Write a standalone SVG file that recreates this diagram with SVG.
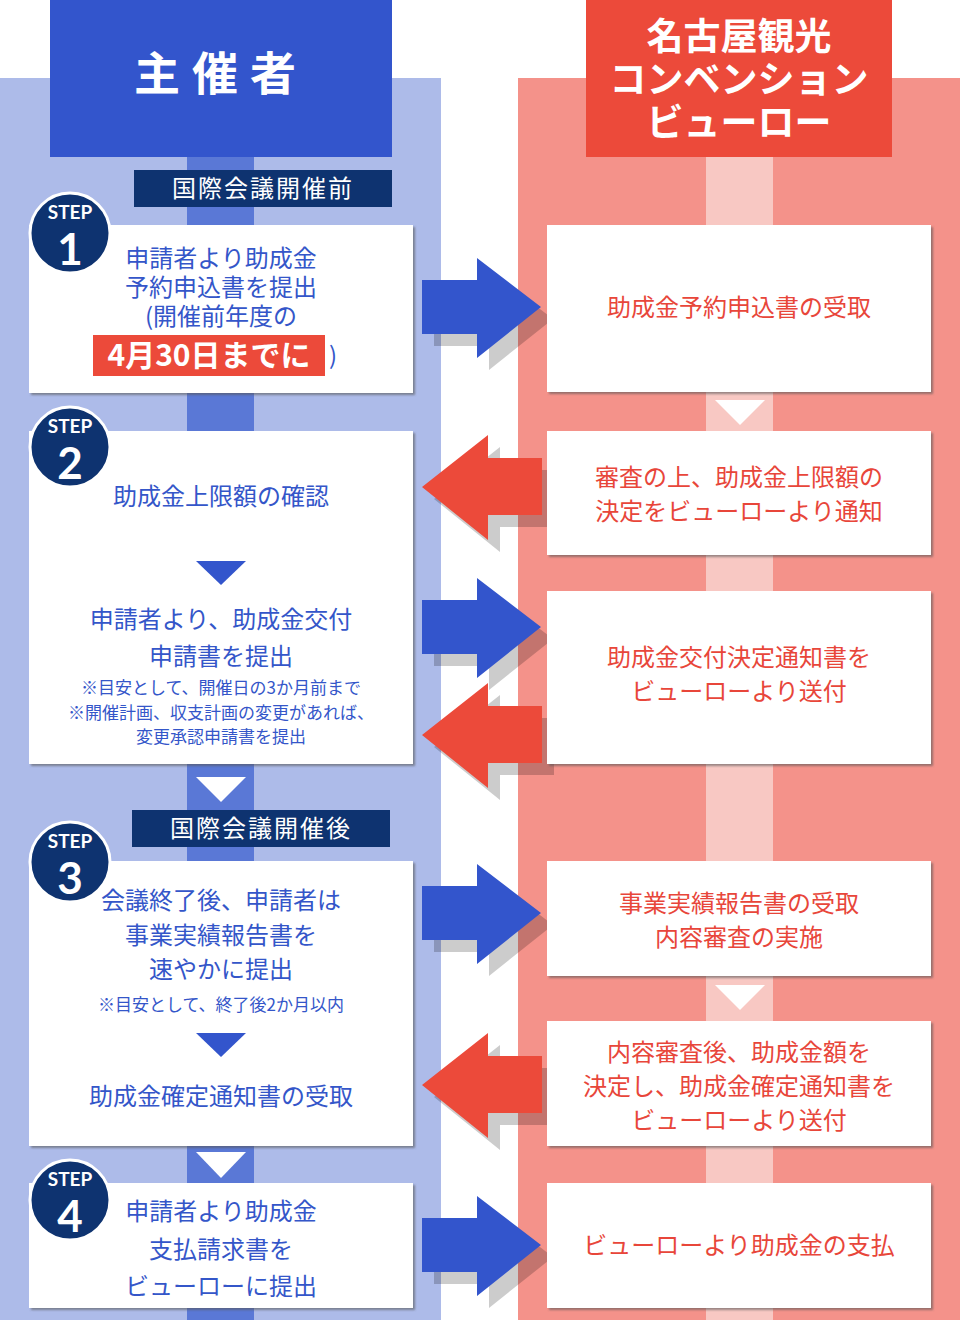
<svg xmlns="http://www.w3.org/2000/svg" width="960" height="1320" viewBox="0 0 960 1320">
<style>
text{font-family:"Noto Sans CJK JP","Noto Sans",sans-serif;text-anchor:middle}
.b{fill:#3456c9;font-size:24px}
.r{fill:#e8463a;font-size:24px}
.s{fill:#3456c9;font-size:17px}
.box{fill:#fff;filter:url(#sh)}
.ban{fill:#0e3370}
.bt{fill:#fff;font-size:24px;letter-spacing:2px}
.sc{fill:#0e3370;stroke:#fff;stroke-width:3}
.st1{fill:#fff;font-size:19px;font-weight:bold;font-family:Lato,"Liberation Sans",sans-serif}
.st2{fill:#fff;font-size:44px;font-weight:bold;font-family:Lato,"Liberation Sans",sans-serif}
.ba{fill:#3355cc}.ra{fill:#ec4a3a}.sa{fill:#000;opacity:.2}
</style>
<defs>
<filter id="sh" x="-5%" y="-5%" width="110%" height="110%"><feDropShadow dx="2" dy="2" stdDeviation="0.8" flood-color="#555" flood-opacity="0.6"/></filter>
<path id="ra" d="M0,-27 H55 V-49 L119,0 L55,51 V27 H0 Z"/>
<path id="la" d="M0,-29 H-54 V-52 L-120,0 L-54,53 V28 H0 Z"/>
</defs>
<rect width="960" height="1320" fill="#fff"/>
<rect x="0" y="78" width="441" height="1242" fill="#adbbe9"/>
<rect x="187" y="78" width="67" height="1242" fill="#5a78d6"/>
<rect x="518" y="78" width="442" height="1242" fill="#f4928a"/>
<rect x="706" y="78" width="67" height="1242" fill="#f8c8c3"/>
<g id="h1"><rect x="50" y="0" width="342" height="157" fill="#3355cc"/><text x="221" y="90" fill="#fff" font-size="46" font-weight="bold" letter-spacing="12">主催者</text></g>
<g id="h2"><rect x="586" y="0" width="306" height="157" fill="#ec4a3a"/>
<text fill="#fff" font-size="37" font-weight="bold"><tspan x="739" y="50">名古屋観光</tspan><tspan x="739" y="93">コンベンション</tspan><tspan x="739" y="136">ビューロー</tspan></text></g>
<g id="ban1"><rect class="ban" x="134" y="170" width="258" height="37"/><text class="bt" x="263" y="197">国際会議開催前</text></g>
<g id="ban2"><rect class="ban" x="132" y="810" width="258" height="37"/><text class="bt" x="261" y="837">国際会議開催後</text></g>
<g id="connectors">
<polygon points="715,400 765,400 740,425" fill="#fff"/>
<polygon points="715,985 765,985 740,1010" fill="#fff"/>
<polygon points="196,777 246,777 221,802" fill="#fff"/>
<polygon points="196,1152 246,1152 221,1178" fill="#fff"/>
<g transform="translate(434,319)"><use href="#ra" class="sa"/></g><g transform="translate(422,307)"><use href="#ra" class="ba"/></g>
<g transform="translate(434,639)"><use href="#ra" class="sa"/></g><g transform="translate(422,627)"><use href="#ra" class="ba"/></g>
<g transform="translate(434,925)"><use href="#ra" class="sa"/></g><g transform="translate(422,913)"><use href="#ra" class="ba"/></g>
<g transform="translate(434,1257)"><use href="#ra" class="sa"/></g><g transform="translate(422,1245)"><use href="#ra" class="ba"/></g>
<g transform="translate(554,499)"><use href="#la" class="sa"/></g><g transform="translate(542,487)"><use href="#la" class="ra"/></g>
<g transform="translate(554,747)"><use href="#la" class="sa"/></g><g transform="translate(542,735)"><use href="#la" class="ra"/></g>
<g transform="translate(554,1097)"><use href="#la" class="sa"/></g><g transform="translate(542,1085)"><use href="#la" class="ra"/></g>
</g>
<g id="step1"><rect class="box" x="29" y="225" width="384" height="168"/>
<text class="b"><tspan x="221" y="267">申請者より助成金</tspan><tspan x="221" y="296">予約申込書を提出</tspan><tspan x="221" y="325">(開催前年度の</tspan></text>
<rect x="93" y="335" width="232" height="41" fill="#ec4a3a"/>
<text x="209" y="366" fill="#fff" font-size="30" font-weight="bold">4月30日までに</text><text x="333" y="364" class="b">)</text>
<circle class="sc" cx="70" cy="233" r="40"/><text class="st1" x="70" y="219">STEP</text><text class="st2" x="70" y="265">1</text></g>
<g id="step2"><rect class="box" x="29" y="431" width="384" height="333"/>
<text class="b" x="221" y="505">助成金上限額の確認</text>
<polygon points="196,561 246,561 221,585" fill="#3355cc"/>
<text class="b"><tspan x="221" y="628">申請者より、助成金交付</tspan><tspan x="221" y="665">申請書を提出</tspan></text>
<text class="s"><tspan x="221" y="694">※目安として、開催日の3か月前まで</tspan><tspan x="221" y="719">※開催計画、収支計画の変更があれば、</tspan><tspan x="221" y="743">変更承認申請書を提出</tspan></text>
<circle class="sc" cx="70" cy="447" r="40"/><text class="st1" x="70" y="433">STEP</text><text class="st2" x="70" y="479">2</text></g>
<g id="step3"><rect class="box" x="29" y="861" width="384" height="285"/>
<text class="b"><tspan x="221" y="909">会議終了後、申請者は</tspan><tspan x="221" y="944">事業実績報告書を</tspan><tspan x="221" y="978">速やかに提出</tspan></text>
<text class="s" x="221" y="1011">※目安として、終了後2か月以内</text>
<polygon points="196,1033 246,1033 221,1057" fill="#3355cc"/>
<text class="b" x="221" y="1105">助成金確定通知書の受取</text>
<circle class="sc" cx="70" cy="862" r="40"/><text class="st1" x="70" y="848">STEP</text><text class="st2" x="70" y="894">3</text></g>
<g id="step4"><rect class="box" x="29" y="1183" width="384" height="125"/>
<text class="b"><tspan x="221" y="1220">申請者より助成金</tspan><tspan x="221" y="1258">支払請求書を</tspan><tspan x="221" y="1295">ビューローに提出</tspan></text>
<circle class="sc" cx="70" cy="1200" r="40"/><text class="st1" x="70" y="1186">STEP</text><text class="st2" x="70" y="1232">4</text></g>
<g id="r1"><rect class="box" x="547" y="225" width="384" height="167"/><text class="r" x="739" y="316">助成金予約申込書の受取</text></g>
<g id="r2"><rect class="box" x="547" y="431" width="384" height="124"/><text class="r"><tspan x="739" y="486">審査の上、助成金上限額の</tspan><tspan x="739" y="520">決定をビューローより通知</tspan></text></g>
<g id="r3"><rect class="box" x="547" y="591" width="384" height="173"/><text class="r"><tspan x="739" y="666">助成金交付決定通知書を</tspan><tspan x="739" y="700">ビューローより送付</tspan></text></g>
<g id="r4"><rect class="box" x="547" y="861" width="384" height="115"/><text class="r"><tspan x="739" y="912">事業実績報告書の受取</tspan><tspan x="739" y="946">内容審査の実施</tspan></text></g>
<g id="r5"><rect class="box" x="547" y="1021" width="384" height="125"/><text class="r"><tspan x="739" y="1061">内容審査後、助成金額を</tspan><tspan x="739" y="1095">決定し、助成金確定通知書を</tspan><tspan x="739" y="1129">ビューローより送付</tspan></text></g>
<g id="r6"><rect class="box" x="547" y="1183" width="384" height="125"/><text class="r" x="739" y="1254">ビューローより助成金の支払</text></g>
</svg>
